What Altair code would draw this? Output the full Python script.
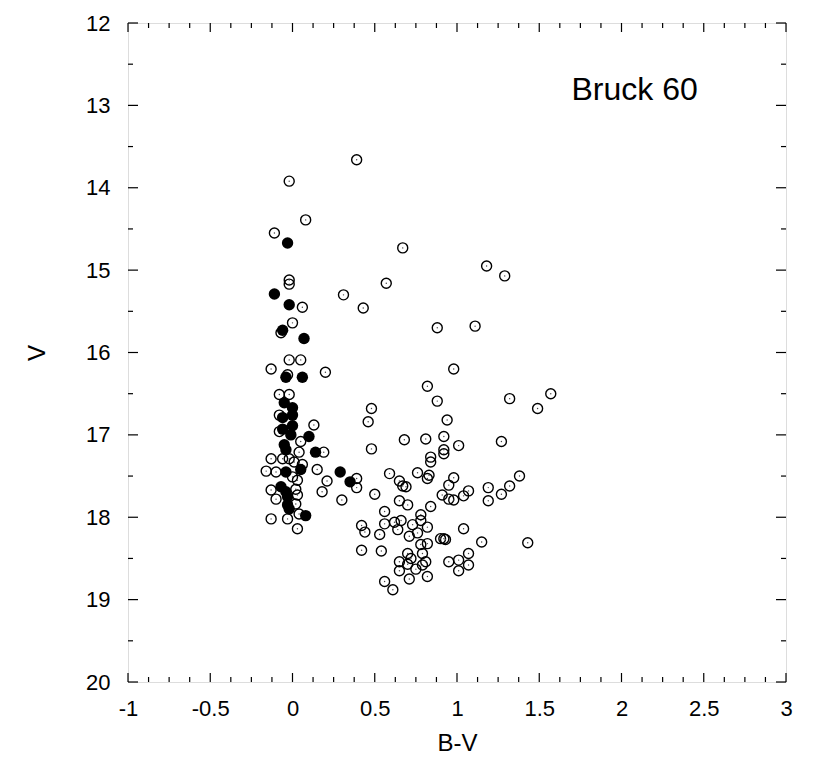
import altair as alt
import pandas as pd

# Open circles (B-V, V)
open_bv = [0.39, -0.02, 0.08, -0.11, 0.67, 1.18, 1.29, -0.02, -0.02, 0.57,
           0.31, 0.06, 0.43, 0.00, 0.88, 1.11, -0.07, -0.02, 0.05, -0.13,
           -0.03, 0.20, 0.82, 0.88, 0.98, 1.32, 1.57, 1.49, 0.48, -0.08,
           -0.02, 0.94, 0.46, 0.13, -0.08, -0.08, 0.05, 0.68, 0.81, 0.92,
           1.01, 1.27, 0.48, 0.92, 0.92, 0.84, 0.84, 0.04, 0.19, -0.13,
           -0.06, -0.02, 0.01, 0.06, -0.16, -0.10, 0.15, 0.59, 0.76, 0.83,
           0.82, 0.98, 1.38, 0.00, 0.03, 0.21, 0.39, 0.39, 0.65, 0.67,
           0.69, 0.95, 1.19, 1.32, 1.07, -0.13, 0.02, 0.03, 0.18, 0.50,
           0.91, 0.95, 0.98, 1.04, 1.27, -0.10, 0.02, 0.30, 0.65, 0.70,
           1.19, 0.84, 0.56, 0.04, -0.13, -0.03, 0.78, 0.78, 0.03, 0.42,
           0.44, 0.56, 0.62, 0.66, 0.64, 0.53, 0.73, 0.71, 0.76, 0.82,
           1.04, 0.90, 0.92, 0.93, 1.15, 1.43, 0.82, 0.78, 0.42, 0.54,
           0.70, 0.72, 0.65, 0.70, 0.75, 0.79, 0.79, 0.81, 0.95, 1.01,
           1.07, 1.07, 1.01, 0.65, 0.71, 0.82, 0.56, 0.61]
open_v = [13.66, 13.92, 14.39, 14.55, 14.73, 14.95, 15.07, 15.12, 15.17, 15.16,
          15.30, 15.45, 15.46, 15.64, 15.70, 15.68, 15.76, 16.09, 16.09, 16.20,
          16.27, 16.24, 16.41, 16.59, 16.20, 16.56, 16.50, 16.68, 16.68, 16.51,
          16.51, 16.82, 16.84, 16.88, 16.76, 16.96, 17.08, 17.06, 17.05, 17.02,
          17.13, 17.08, 17.17, 17.18, 17.23, 17.27, 17.33, 17.21, 17.21, 17.29,
          17.29, 17.29, 17.33, 17.36, 17.44, 17.45, 17.42, 17.47, 17.46, 17.49,
          17.53, 17.52, 17.50, 17.51, 17.55, 17.56, 17.53, 17.64, 17.56, 17.62,
          17.63, 17.61, 17.64, 17.62, 17.68, 17.67, 17.66, 17.73, 17.69, 17.72,
          17.73, 17.78, 17.79, 17.74, 17.72, 17.78, 17.84, 17.79, 17.80, 17.85,
          17.80, 17.87, 17.93, 17.96, 18.02, 18.02, 17.97, 18.04, 18.14, 18.10,
          18.18, 18.08, 18.06, 18.04, 18.15, 18.21, 18.09, 18.23, 18.19, 18.12,
          18.14, 18.26, 18.26, 18.27, 18.30, 18.31, 18.32, 18.33, 18.40, 18.41,
          18.44, 18.50, 18.54, 18.57, 18.63, 18.44, 18.58, 18.54, 18.54, 18.52,
          18.44, 18.58, 18.65, 18.65, 18.75, 18.72, 18.78, 18.88]

# Filled circles (B-V, V)
filled_bv = [-0.03, -0.11, -0.02, -0.06, 0.07, -0.04, 0.06, -0.05, 0.00, 0.00,
             -0.06, 0.00, -0.06, -0.01, -0.05, -0.04, 0.10, 0.14, 0.29, 0.35,
             -0.04, 0.05, -0.07, -0.04, -0.03, -0.03, -0.02, 0.08]
filled_v = [14.67, 15.29, 15.42, 15.73, 15.83, 16.30, 16.30, 16.61, 16.67, 16.76,
            16.79, 16.89, 16.93, 17.00, 17.12, 17.18, 17.02, 17.21, 17.45, 17.57,
            17.45, 17.42, 17.63, 17.69, 17.75, 17.85, 17.90, 17.98]

label_text = ["Bruck 60"]
label_bv = [2.08]
label_v = [12.81]

x_major = [-1, -0.5, 0, 0.5, 1, 1.5, 2, 2.5, 3]
x_minor = [-0.875, -0.75, -0.625, -0.375, -0.25, -0.125, 0.125, 0.25, 0.375,
           0.625, 0.75, 0.875, 1.125, 1.25, 1.375, 1.625, 1.75, 1.875,
           2.125, 2.25, 2.375, 2.625, 2.75, 2.875]
y_major = [12, 13, 14, 15, 16, 17, 18, 19, 20]
y_minor = [12.5, 13.5, 14.5, 15.5, 16.5, 17.5, 18.5, 19.5]

W, H = 658, 659
FONT = "Liberation Sans"

xscale = alt.Scale(domain=[-1, 3], nice=False, zero=False)
yscale = alt.Scale(domain=[12, 20], nice=False, zero=False, reverse=True)

xaxis = alt.Axis(values=x_major, labelExpr="'' + datum.value", ticks=False, domain=False,
                 grid=False, labelFontSize=22, labelFont=FONT, labelPadding=16,
                 labelFlush=False, labelOverlap=False, labelColor="black",
                 title="B-V", titleFontSize=24, titleFont=FONT, titleFontWeight="normal",
                 titlePadding=12, titleColor="black")
yaxis = alt.Axis(values=y_major, labelExpr="'' + datum.value", ticks=False, domain=False,
                 grid=False, labelFontSize=22, labelFont=FONT, labelPadding=18,
                 labelFlush=False, labelOverlap=False, labelColor="black",
                 title="V", titleFontSize=24, titleFont=FONT, titleFontWeight="normal",
                 titlePadding=36, titleColor="black")

XE = lambda: alt.X("bv:Q", scale=xscale, axis=xaxis, title="B-V")
YE = lambda: alt.Y("v:Q", scale=yscale, axis=yaxis, title="V")

open_df = pd.DataFrame({"bv": open_bv, "v": open_v})
filled_df = pd.DataFrame({"bv": filled_bv, "v": filled_v})
label_df = pd.DataFrame({"bv": label_bv, "v": label_v, "t": label_text})

open_pts = alt.Chart(open_df).mark_point(shape="circle", filled=False, size=100,
                                          strokeWidth=1.4, color="black", opacity=1).encode(
    x=XE(), y=YE())
open_dots = alt.Chart(open_df).mark_circle(size=2, color="#444", opacity=1).encode(
    x=XE(), y=YE())
filled_pts = alt.Chart(filled_df).mark_circle(size=130, color="black", opacity=1).encode(
    x=XE(), y=YE())
label = alt.Chart(label_df).mark_text(fontSize=32, font=FONT, align="center",
                                      baseline="middle", color="black").encode(
    x=XE(), y=YE(), text="t:N")

xmaj_df = pd.DataFrame({"bv": x_major})
xmin_df = pd.DataFrame({"bv": x_minor})
ymaj_df = pd.DataFrame({"v": y_major})
ymin_df = pd.DataFrame({"v": y_minor})

def xticks(df, length):
    bottom = alt.Chart(df).mark_rule(color="black", strokeWidth=1.2).encode(
        x=XE(), y=alt.value(H), y2=alt.value(H - length))
    top = alt.Chart(df).mark_rule(color="black", strokeWidth=1.2).encode(
        x=XE(), y=alt.value(0), y2=alt.value(length))
    return [bottom, top]

def yticks(df, length):
    left = alt.Chart(df).mark_rule(color="black", strokeWidth=1.2).encode(
        y=YE(), x=alt.value(0), x2=alt.value(length))
    right = alt.Chart(df).mark_rule(color="black", strokeWidth=1.2).encode(
        y=YE(), x=alt.value(W), x2=alt.value(W - length))
    return [left, right]

tick_layers = xticks(xmaj_df, 9) + xticks(xmin_df, 5) + yticks(ymaj_df, 10) + yticks(ymin_df, 5)

chart = alt.layer(open_pts, open_dots, filled_pts, label, *tick_layers).properties(
    width=W, height=H,
    padding={"left": 17, "top": 4, "right": 5, "bottom": 5},
).configure_view(stroke="black", strokeWidth=1.3).configure(background="white")

chart.save("out.html", embed_options={"renderer": "svg", "actions": False})
